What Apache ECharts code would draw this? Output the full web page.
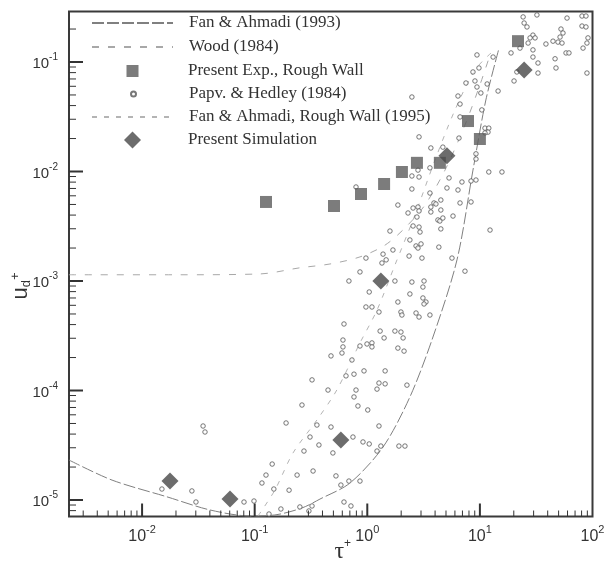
<!DOCTYPE html>
<html><head><meta charset="utf-8">
<script src="https://cdn.jsdelivr.net/npm/echarts@6/dist/echarts.min.js"></script>
<style>html,body{margin:0;padding:0;background:#fff}#c{width:604px;height:563px}</style>
</head><body><div id="c"></div><script>
// ---- data ----
const papvTau = [24.2,32.1,59.4,80.7,87.5,24.7,26.2,80.7,87.5,52.5,29.6,30.9,54.7,51.5,49.4,53.6,38.6,44.6,27.9,26.8,22.7,18.9,29.6,29.6,82.4,89.3,91.2,58.2,61.8,46.5,32.8,47.4,21.3,32.8,89.3,20.1,13.1,9.42,8.68,9.81,7.52,9.04,9.42,11.6,10.2,6.39,14.5,6.66,10.4,6.66,11.1,12.0,11.8,11.1,3.67,4.69,6.52,9.23,9.23,12.0,15.7,5.32,6.93,8.34,9.23,3.60,5.10,6.39,3.60,4.50,3.91,4.07,3.67,6.66,8.34,2.49,2.88,2.82,2.49,2.88,2.49,2.82,2.55,2.88,1.87,4.50,3.67,5.77,2.30,2.76,4.24,4.41,4.69,2.55,2.88,2.94,4.50,1.59,2.39,2.71,2.82,3.00,4.32,12.3,1.38,1.47,1.35,1.69,0.973,2.35,3.06,5.65,7.37,0.861,0.687,1.76,2.49,3.19,3.12,1.04,2.39,3.12,3.32,3.19,0.973,1.10,1.27,1.87,1.99,2.03,2.71,2.88,3.60,0.621,1.30,1.76,1.99,1.41,2.08,0.608,0.608,0.596,0.861,0.994,1.10,1.10,1.87,2.12,0.476,0.731,0.323,0.647,0.762,0.935,1.44,1.27,1.44,1.22,2.25,0.448,0.794,0.762,0.826,1.01,0.263,0.190,0.357,0.476,1.27,0.310,0.372,0.746,0.916,1.04,1.32,1.22,1.91,2.16,0.274,0.495,0.143,0.126,0.116,0.148,0.202,0.238,0.330,0.527,0.687,0.861,0.583,0.0986,0.0804,0.171,0.252,0.323,0.303,0.621,0.716,0.134,0.0348,0.0362,0.0150,0.0277,0.0301,0.794];
const papvU = [0.258,0.269,0.252,0.263,0.263,0.227,0.209,0.213,0.209,0.200,0.176,0.166,0.184,0.169,0.152,0.149,0.146,0.155,0.166,0.149,0.134,0.121,0.129,0.111,0.134,0.149,0.166,0.121,0.121,0.107,0.0979,0.0882,0.0811,0.0793,0.0793,0.0671,0.111,0.116,0.0811,0.0882,0.0643,0.0671,0.0591,0.0630,0.0521,0.0489,0.0543,0.0413,0.0365,0.0315,0.0249,0.0249,0.0229,0.0225,0.0164,0.0167,0.0202,0.0145,0.0130,0.00990,0.00990,0.00873,0.00802,0.00819,0.00836,0.0108,0.00707,0.00678,0.00636,0.00549,0.00516,0.00505,0.00474,0.00516,0.00527,0.0479,0.0207,0.0103,0.00910,0.00891,0.00692,0.00474,0.00464,0.00436,0.00494,0.00445,0.00427,0.00392,0.00418,0.00384,0.00361,0.00353,0.00376,0.00318,0.00311,0.00280,0.00299,0.00286,0.00237,0.00209,0.00200,0.00218,0.00204,0.00292,0.00176,0.00156,0.00146,0.00192,0.00162,0.00169,0.00162,0.00162,0.00123,0.00121,0.00100,0.00100,9.79e-4,0.00100,8.81e-4,7.94e-4,7.61e-4,7.00e-4,6.43e-4,6.17e-4,5.79e-4,5.79e-4,5.21e-4,6.43e-4,5.21e-4,4.89e-4,5.10e-4,4.69e-4,4.89e-4,4.05e-4,3.49e-4,3.49e-4,3.42e-4,3.02e-4,3.02e-4,2.89e-4,2.50e-4,2.20e-4,2.55e-4,2.66e-4,2.72e-4,2.50e-4,2.44e-4,2.29e-4,2.07e-4,1.90e-4,1.25e-4,1.36e-4,1.41e-4,1.51e-4,1.51e-4,1.17e-4,1.15e-4,1.03e-4,1.12e-4,1.01e-4,1.01e-4,8.73e-5,7.22e-5,6.64e-5,7.37e-5,5.05e-5,4.84e-5,4.64e-5,4.74e-5,3.76e-5,3.18e-5,3.76e-5,3.39e-5,3.25e-5,3.11e-5,2.80e-5,3.11e-5,3.11e-5,2.80e-5,2.69e-5,2.13e-5,1.69e-5,1.43e-5,1.26e-5,1.23e-5,1.69e-5,1.84e-5,1.66e-5,1.49e-5,1.49e-5,1.37e-5,9.79e-6,9.59e-6,8.28e-6,8.64e-6,8.82e-6,7.94e-6,9.59e-6,8.82e-6,7.45e-6,4.74e-5,4.18e-5,1.26e-5,1.21e-5,9.59e-6,0.00722];

const expTau = [0.126,0.506,0.879,1.41,2.03,2.76,4.41,7.84,10.0,21.8];
const expU   = [0.00527,0.00484,0.00623,0.00769,0.00990,0.0120,0.0120,0.0289,0.0198,0.155];

const simTau = [0.0177,0.0604,0.583,1.32,5.10,24.7];
const simU   = [1.49e-5,1.02e-5,3.53e-5,0.00100,0.0139,0.0845];

const fan93Tau = [0.00224,0.00541,0.0166,0.0401,0.0908,0.151,0.263,0.380,0.702,1.38,2.39,3.83,6.26,8.68,11.3,14.8];
const fan93U   = [2.32e-5,1.52e-5,1.07e-5,8.11e-6,7.15e-6,7.30e-6,8.46e-6,1.02e-5,1.43e-5,3.05e-5,8.73e-5,3.08e-4,0.00156,0.0103,0.0450,0.134];

const woodTau = [0.00224,0.02,0.111,0.252,0.466,0.861,1.44,2.16,3.25,4.90,7.37,10.0,12.3];
const woodU   = [0.00114,0.00114,0.00116,0.00132,0.00143,0.00166,0.00213,0.00305,0.00494,0.0103,0.0266,0.0617,0.116];

const fan95Tau = [0.107,0.151,0.219,0.357,0.536,0.861,1.22,1.76,2.65,3.99,6.01,9.04,12.8];
const fan95U   = [7.15e-6,1.23e-5,2.69e-5,5.38e-5,1.01e-4,2.72e-4,5.43e-4,0.00140,0.00401,0.0127,0.0365,0.0845,0.123];

const xMajorTicks = [0.01,0.1,1,10];
const yMajorTicks = [1e-5,1e-4,1e-3,1e-2,1e-1];
const xMinorTicks = [0.003,0.004,0.005,0.006,0.007,0.008,0.009,0.02,0.03,0.04,0.05,0.06,0.07,0.08,0.09,0.2,0.3,0.4,0.5,0.6,0.7,0.8,0.9,2,3,4,5,6,7,8,9,20,30,40,50,60,70,80,90];
const yMinorTicks = [8e-6,9e-6,2e-5,3e-5,4e-5,5e-5,6e-5,7e-5,8e-5,9e-5,2e-4,3e-4,4e-4,5e-4,6e-4,7e-4,8e-4,9e-4,2e-3,3e-3,4e-3,5e-3,6e-3,7e-3,8e-3,9e-3,0.02,0.03,0.04,0.05,0.06,0.07,0.08,0.09,0.2];

const names = ['Fan & Ahmadi (1993)','Wood (1984)','Present Exp., Rough Wall','Papv. & Hedley (1984)','Fan & Ahmadi, Rough Wall (1995)','Present Simulation'];

// ---- chart ----
const X_MIN = 0.002244, X_MAX = 100, Y_MIN = 7.07e-6, Y_MAX = 0.2886;
const zip = (a, b) => a.map((v, i) => [v, b[i]]);
const INK = '#333';

function tickSeries(values, dir, len, w) {
  return {
    type: 'custom', coordinateSystem: 'cartesian2d', silent: true, clip: false, z: 20,
    data: values.map(v => dir === 'x' ? [v, Y_MIN] : [X_MIN, v]),
    renderItem: function (params, api) {
      const p = api.coord([api.value(0), api.value(1)]);
      const shape = dir === 'x'
        ? { x1: p[0], y1: p[1], x2: p[0], y2: p[1] - len }
        : { x1: p[0], y1: p[1], x2: p[0] + len, y2: p[1] };
      return { type: 'line', shape: shape, style: { stroke: INK, lineWidth: w } };
    }
  };
}

function labelFmt(v) {
  const e = Math.log10(v), r = Math.round(e);
  if (Math.abs(e - r) > 1e-4) return '';
  return '{b|10}{s|' + r + '}';
}
const xLabelRich = {
  b: { fontFamily: 'Liberation Sans', fontSize: 16, color: INK, lineHeight: 20, verticalAlign: 'bottom' },
  s: { fontFamily: 'Liberation Sans', fontSize: 11, color: INK, lineHeight: 11, verticalAlign: 'top' }
};
const yLabelRich = {
  b: { fontFamily: 'Liberation Sans', fontSize: 15, color: INK, lineHeight: 19, verticalAlign: 'bottom' },
  s: { fontFamily: 'Liberation Sans', fontSize: 10, color: INK, lineHeight: 10, verticalAlign: 'top' }
};

// legend rows: [centre y, icon width, icon height, icon left]
const TEXT_X = 188;
const legendRows = [
  [23, 81, 14, 91], [47, 81, 14, 91], [71, 12, 12, 126.5],
  [94, 5, 5, 130], [117, 81, 14, 91], [140, 17, 17, 124]
];
const legends = names.map((n, i) => {
  const r = legendRows[i];
  const isLine = (i === 0 || i === 1 || i === 4);
  const lg = {
    data: [n], left: r[3], top: r[0] - 9, orient: 'vertical', padding: 0,
    itemWidth: r[1], itemHeight: r[2], selectedMode: false,
    textStyle: { fontFamily: 'Liberation Serif', fontSize: 17, color: INK, lineHeight: 18,
      padding: [0, 0, 0, TEXT_X - (r[3] + r[1] + 5)] }
  };
  if (isLine) lg.itemStyle = { opacity: 0 };
  return lg;
});

const option = {
  animation: false,
  backgroundColor: '#fff',
  grid: { left: 69, right: 11.5, top: 11.6, bottom: 46.5, outerBoundsMode: 'none', containLabel: false,
    show: true, borderColor: '#3a3a3a', borderWidth: 2 },
  legend: legends,
  xAxis: {
    type: 'log', min: X_MIN, max: X_MAX,
    axisLine: { show: false }, axisTick: { show: false }, splitLine: { show: false },
    axisLabel: { margin: 8, formatter: labelFmt, rich: xLabelRich, showMinLabel: true, showMaxLabel: true },
    name: '{t|τ}{p|+}', nameLocation: 'middle', nameGap: 21, nameMoveOverlap: false,
    nameTextStyle: { rich: {
      t: { fontFamily: 'Liberation Serif', fontSize: 24, color: INK, lineHeight: 26, verticalAlign: 'bottom' },
      p: { fontFamily: 'Liberation Sans', fontSize: 12, color: INK, lineHeight: 12, verticalAlign: 'top' } },
      padding: [0, 0, 0, 24] }
  },
  yAxis: {
    type: 'log', min: Y_MIN, max: Y_MAX,
    axisLine: { show: false }, axisTick: { show: false }, splitLine: { show: false },
    axisLabel: { margin: 11, formatter: labelFmt, rich: yLabelRich },
    name: '{u|u}{d|d}{p|+}', nameLocation: 'middle', nameGap: 36, nameRotate: 90, nameMoveOverlap: false,
    nameTextStyle: { padding: [0, 44, 0, 0], rich: {
      u: { fontFamily: 'Liberation Sans', fontSize: 22, color: INK, lineHeight: 24, verticalAlign: 'middle' },
      d: { fontFamily: 'Liberation Sans', fontSize: 13, color: INK, lineHeight: 13, verticalAlign: 'bottom' },
      p: { fontFamily: 'Liberation Sans', fontSize: 13, color: INK, lineHeight: 13, verticalAlign: 'top' } } }
  },
  series: [
    { name: names[0], type: 'line', data: zip(fan93Tau, fan93U), symbol: 'none', smooth: 0.3, z: 3,
      itemStyle: { color: '#808080' }, lineStyle: { color: '#808080', width: 1, type: [12, 3] } },
    { name: names[1], type: 'line', data: zip(woodTau, woodU), symbol: 'none', smooth: 0.3, z: 3,
      itemStyle: { color: '#a8a8a8' }, lineStyle: { color: '#a8a8a8', width: 1, type: [7, 9] } },
    { name: names[2], type: 'scatter', data: zip(expTau, expU), symbol: 'rect', symbolSize: 12, z: 6,
      itemStyle: { color: '#5b5b5b' } },
    { name: names[3], type: 'scatter', data: zip(papvTau, papvU), symbol: 'circle', symbolSize: 4.5, z: 4,
      itemStyle: { color: '#fff', borderColor: '#555', borderWidth: 1 } },
    { name: names[4], type: 'line', data: zip(fan95Tau, fan95U), symbol: 'none', smooth: 0.3, z: 3,
      itemStyle: { color: '#b4b4b4' }, lineStyle: { color: '#b4b4b4', width: 1, type: [5, 7] } },
    { name: names[5], type: 'scatter', data: zip(simTau, simU), symbol: 'diamond', symbolSize: 17, z: 7,
      itemStyle: { color: '#474747' } },
    tickSeries(xMajorTicks, 'x', 13, 2),
    tickSeries(xMinorTicks, 'x', 6, 1),
    tickSeries(yMajorTicks, 'y', 14, 2),
    tickSeries(yMinorTicks, 'y', 7, 1)
  ]
};
const chart = echarts.init(document.getElementById('c'), null, { renderer: 'canvas' });
chart.setOption(option);
</script></body></html>
